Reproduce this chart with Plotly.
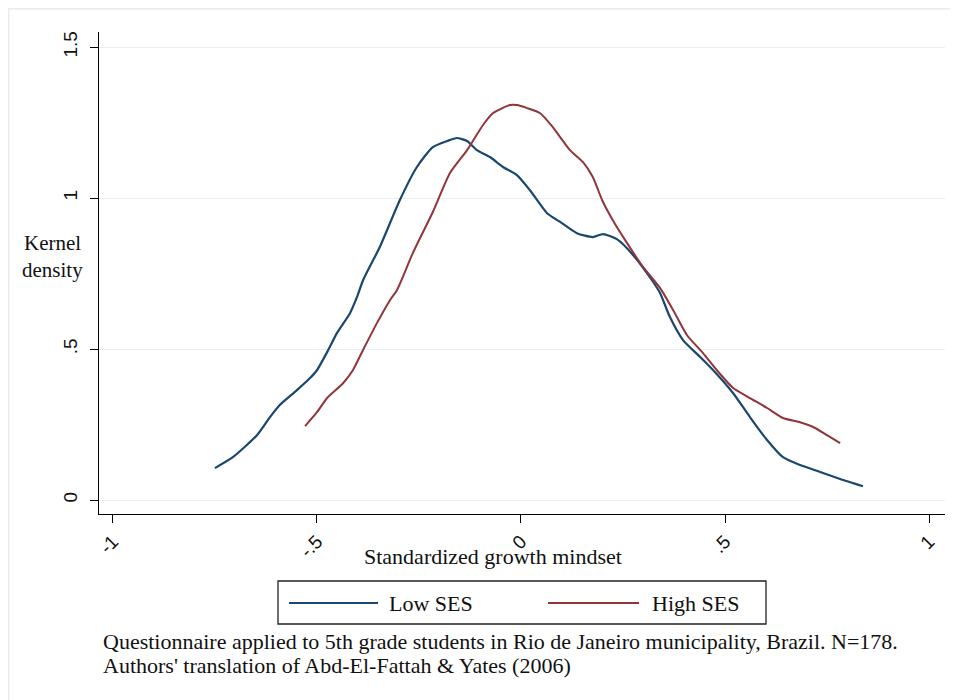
import plotly.graph_objects as go

# ---- data ----
low_x = [-0.750, -0.706, -0.647, -0.615, -0.591, -0.549, -0.517, -0.500, -0.475, -0.451,
         -0.419, -0.402, -0.387, -0.346, -0.297, -0.255, -0.216, -0.181, -0.157, -0.132,
         -0.108, -0.076, -0.044, -0.010, 0.022, 0.064, 0.096, 0.137, 0.176, 0.201,
         0.235, 0.275, 0.321, 0.341, 0.365, 0.397, 0.439, 0.471, 0.520, 0.561,
         0.603, 0.642, 0.684, 0.733, 0.782, 0.838]
low_y = [0.106, 0.142, 0.215, 0.275, 0.315, 0.364, 0.404, 0.430, 0.490, 0.553,
         0.619, 0.672, 0.728, 0.838, 0.993, 1.103, 1.169, 1.189, 1.199, 1.189,
         1.159, 1.136, 1.103, 1.076, 1.026, 0.950, 0.921, 0.884, 0.871, 0.881,
         0.864, 0.811, 0.728, 0.685, 0.606, 0.530, 0.474, 0.430, 0.354, 0.275,
         0.199, 0.142, 0.116, 0.093, 0.070, 0.046]

high_x = [-0.529, -0.500, -0.475, -0.436, -0.412, -0.387, -0.353, -0.321, -0.304, -0.265,
          -0.216, -0.174, -0.132, -0.093, -0.069, -0.027, -0.010, 0.015, 0.047, 0.078,
          0.096, 0.120, 0.152, 0.176, 0.199, 0.225, 0.260, 0.299, 0.341, 0.373,
          0.407, 0.446, 0.480, 0.520, 0.561, 0.603, 0.642, 0.684, 0.716, 0.750, 0.782]
high_y = [0.245, 0.291, 0.338, 0.387, 0.430, 0.497, 0.586, 0.662, 0.695, 0.818,
          0.954, 1.083, 1.159, 1.242, 1.281, 1.308, 1.308, 1.298, 1.281, 1.235,
          1.202, 1.159, 1.119, 1.070, 0.993, 0.927, 0.851, 0.772, 0.702, 0.629,
          0.546, 0.487, 0.430, 0.371, 0.338, 0.305, 0.272, 0.258, 0.242, 0.215, 0.189]

x_ticks = [-1, -0.5, 0, 0.5, 1]
x_tick_labels = ["-1", "-.5", "0", ".5", "1"]
y_ticks = [0, 0.5, 1, 1.5]
y_tick_labels = ["0", ".5", "1", "1.5"]

series_names = ["Low SES", "High SES"]
colors = ["#1a476f", "#90353b"]

caption_lines = [
    "Questionnaire applied to 5th grade students in Rio de Janeiro municipality, Brazil. N=178.",
    "Authors' translation of Abd-El-Fattah &amp; Yates (2006)",
]

# ---- figure geometry (page puts the figure 8px in from the corner) ----
OFF = 8
W, H = 950, 692
# plot area in screen pixels: x 99..945, y 32..514
ML, MT = 99 - OFF, 32 - OFF
MR = W - (945 - OFF)
MB = H - (514 - OFF)
PW, PH = W - ML - MR, H - MT - MB


def px(x):
    return (x - OFF - ML) / PW


def py(y):
    return (H - MB - (y - OFF)) / PH


fig = go.Figure()
fig.add_trace(go.Scatter(x=low_x, y=low_y, mode="lines", name=series_names[0],
                         line=dict(color=colors[0], width=2.2, shape="spline", smoothing=0.6),
                         showlegend=False))
fig.add_trace(go.Scatter(x=high_x, y=high_y, mode="lines", name=series_names[1],
                         line=dict(color=colors[1], width=2.0, shape="spline", smoothing=0.6),
                         showlegend=False))

serif = "Liberation Serif, Times New Roman, serif"
sans = "Liberation Sans, Arial, sans-serif"

fig.update_layout(
    width=W, height=H,
    margin=dict(l=ML, r=MR, t=MT, b=MB, pad=0),
    paper_bgcolor="white", plot_bgcolor="white",
    showlegend=False,
    xaxis=dict(range=[-1.034, 1.039], tickvals=x_ticks, ticktext=x_tick_labels,
               tickangle=-45, showgrid=False, zeroline=False,
               showline=True, linecolor="#000000", linewidth=1.2,
               ticks="outside", ticklen=8, tickwidth=1.2, tickcolor="#000000",
               tickfont=dict(family=sans, size=19, color="#111111")),
    yaxis=dict(range=[-0.046, 1.55], tickvals=y_ticks, ticktext=y_tick_labels,
               tickangle=-90, showgrid=True, gridcolor="#e8eff0", gridwidth=1.2,
               zeroline=False, showline=True, linecolor="#000000", linewidth=1.2,
               ticks="outside", ticklen=8, tickwidth=1.2, tickcolor="#000000",
               ticklabelstandoff=5,
               tickfont=dict(family=sans, size=19, color="#111111")),
)

tf = dict(family=serif, size=22, color="#111111")
annotations = [
    dict(text="Kernel", x=px(52), y=py(243), xanchor="center", yanchor="middle",
         font=dict(family=serif, size=21, color="#111111")),
    dict(text="density", x=px(52), y=py(270), xanchor="center", yanchor="middle",
         font=dict(family=serif, size=21, color="#111111")),
    dict(text="Standardized growth mindset", x=px(493), y=py(556), xanchor="center",
         yanchor="middle", font=tf),
    dict(text=series_names[0], x=px(387), y=py(603), xanchor="left", yanchor="middle", font=tf),
    dict(text=series_names[1], x=px(650), y=py(603), xanchor="left", yanchor="middle", font=tf),
    dict(text=caption_lines[0], x=px(101), y=py(641), xanchor="left", yanchor="middle", font=tf),
    dict(text=caption_lines[1], x=px(101), y=py(665), xanchor="left", yanchor="middle", font=tf),
]
for a in annotations:
    a.update(xref="paper", yref="paper", showarrow=False)
fig.update_layout(annotations=annotations)

shapes = [
    # outer faint frame
    dict(type="rect", x0=px(8.5), x1=px(970), y0=py(8.5), y1=py(720),
         line=dict(color="#e6eded", width=2)),
    # legend box
    dict(type="rect", x0=px(278), x1=px(766), y0=py(581), y1=py(624),
         line=dict(color="#222222", width=1.3), fillcolor="white"),
    dict(type="line", x0=px(289), x1=px(378), y0=py(603), y1=py(603),
         line=dict(color=colors[0], width=2.2)),
    dict(type="line", x0=px(548), x1=px(639), y0=py(603), y1=py(603),
         line=dict(color=colors[1], width=2.2)),
]
for s in shapes:
    s.update(xref="paper", yref="paper", layer="below")
fig.update_layout(shapes=shapes)

fig.write_html("out.html")
